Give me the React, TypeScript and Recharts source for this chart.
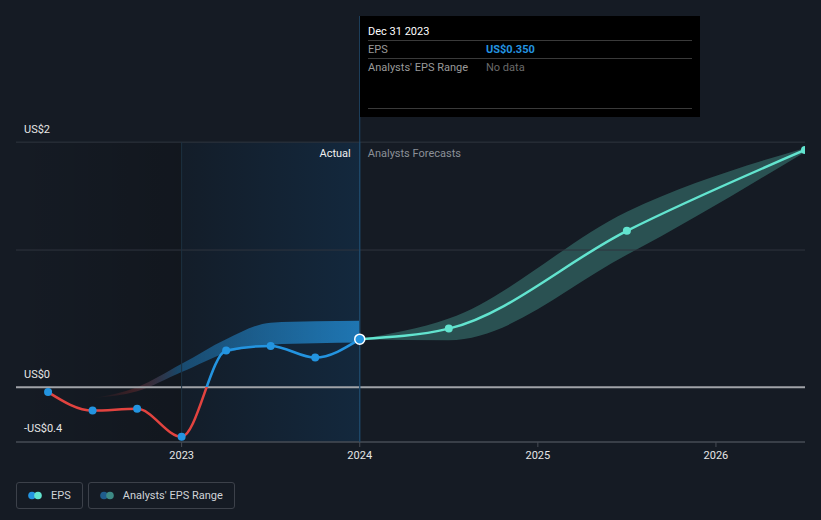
import React from "react";
import {
  ComposedChart,
  Line,
  Area,
  XAxis,
  YAxis,
  Tooltip,
  Legend,
  ReferenceArea,
  ReferenceLine,
} from "recharts";

// quarterly actuals up to Dec 2023, then analyst forecasts
const periods = [2022.25, 2022.5, 2022.75, 2023, 2023.25, 2023.5, 2023.75, 2024, 2024.5, 2025.5, 2026.5];
const periodLabels = [
  "Mar 31 2022", "Jun 30 2022", "Sep 30 2022", "Dec 31 2022", "Mar 31 2023", "Jun 30 2023",
  "Sep 30 2023", "Dec 31 2023", "Jun 30 2024", "Jun 30 2025", "Jun 30 2026",
];
const actualEps = [-0.036, -0.171, -0.158, -0.362, 0.267, 0.301, 0.216, 0.35, null, null, null];
const forecastEps = [null, null, null, null, null, null, null, 0.35, 0.427, 1.14, 1.73];
const actualRangeLow = [null, -0.08, -0.03, 0.11, 0.25, 0.31, 0.32, 0.325, null, null, null];
const actualRangeHigh = [null, -0.08, 0.0, 0.17, 0.35, 0.47, 0.48, 0.485, null, null, null];
const forecastRangeLow = [null, null, null, null, null, null, null, 0.35, 0.343, 0.965, 1.716];
const forecastRangeHigh = [null, null, null, null, null, null, null, 0.35, 0.5, 1.28, 1.745];

const xTicks = [2023, 2024, 2025, 2026];
const yTicks = [-0.4, 0, 1, 1.787];
const yTickLabels = ["-US$0.4", "US$0", "", "US$2"];
const splitYear = 2024;
const pastStart = 2023;

const BLUE = "#2394e0";
const RED = "#e2433f";
const TEAL = "#62e4cf";
const BG = "#151b24";

const data = periods.map((x, i) => ({
  x,
  period: periodLabels[i],
  actual: actualEps[i],
  forecast: forecastEps[i],
  actualRange: actualRangeLow[i] == null ? null : [actualRangeLow[i], actualRangeHigh[i]],
  forecastRange: forecastRangeLow[i] == null ? null : [forecastRangeLow[i], forecastRangeHigh[i]],
}));

const actualVals = actualEps.filter((v): v is number => v != null);
const epsMax = Math.max(...actualVals);
const epsMin = Math.min(...actualVals);
const zeroOffset = epsMax / (epsMax - epsMin);

const fmt = (v: number) => (v < 0 ? "-US$" + Math.abs(v).toFixed(3) : "US$" + v.toFixed(3));

const gridLabel = (text: string) => (p: any) =>
  text ? (
    <text x={p.viewBox.x + 8} y={p.viewBox.y - 12.5} fill="#e6e6e6" fontSize={11} dominantBaseline="middle">
      {text}
    </text>
  ) : (
    <g />
  );

const DividerLabel = (props: any) => {
  const { viewBox } = props;
  const y = viewBox.y + 12;
  return (
    <g>
      <text x={viewBox.x - 9} y={y} textAnchor="end" dominantBaseline="middle" fill="#f0f0f0" fontSize={11}>
        Actual
      </text>
      <text x={viewBox.x + 8} y={y} dominantBaseline="middle" fill="#8b9097" fontSize={11}>
        Analysts Forecasts
      </text>
    </g>
  );
};

const TipContent = (props: any) => {
  const { active, payload } = props;
  if (!active || !payload || !payload.length) return null;
  const row = payload[0].payload;
  const eps = row.actual != null ? row.actual : row.forecast;
  const range = row.forecastRange;
  const hasRange = range && range[0] !== range[1];
  const line = { borderTop: "1px solid #3a3a3a" };
  const rowStyle = { display: "flex", height: 17, lineHeight: "17px" };
  return (
    <div
      style={{
        width: 340,
        height: 101,
        background: "#000",
        padding: "8px 8px 0",
        boxSizing: "border-box",
        fontSize: 11,
        fontFamily: "Roboto, sans-serif",
      }}
    >
      <div style={{ color: "#fff", height: 16, lineHeight: "16px" }}>{row.period}</div>
      <div style={line} />
      <div style={rowStyle}>
        <span style={{ width: 118, color: "#9a9a9a" }}>EPS</span>
        <span style={{ color: BLUE, fontWeight: 700 }}>{fmt(eps)}</span>
      </div>
      <div style={line} />
      <div style={rowStyle}>
        <span style={{ width: 118, color: "#9a9a9a" }}>Analysts' EPS Range</span>
        <span style={{ color: "#6a6a6a" }}>
          {hasRange ? fmt(range[0]) + " - " + fmt(range[1]) : "No data"}
        </span>
      </div>
      <div style={{ height: 32 }} />
      <div style={line} />
    </div>
  );
};

const legendItems = [
  { label: "EPS", colors: [BLUE, TEAL] },
  { label: "Analysts' EPS Range", colors: ["#1f5c8c", "#3d8a85"] },
];

const LegendContent = () => (
  <div style={{ height: 38, display: "flex", alignItems: "flex-start", gap: 5 }}>
    {legendItems.map((item) => (
      <div
        key={item.label}
        style={{
          display: "flex",
          alignItems: "center",
          height: 27,
          boxSizing: "border-box",
          border: "1px solid #3c414a",
          borderRadius: 3,
          padding: "0 11px",
          gap: 8,
          color: "#cfd3d8",
          fontSize: 11,
        }}
      >
        <svg width={15} height={9}>
          <circle cx={4} cy={4.5} r={3.8} fill={item.colors[0]} />
          <circle cx={10} cy={4.5} r={3.8} fill={item.colors[1]} />
        </svg>
        <span>{item.label}</span>
      </div>
    ))}
  </div>
);

const gridStroke = (v: number) => (v === 0 ? "#a0a3a8" : v === yTicks[0] ? "#474c55" : "#2f353f");

export default function App() {
  return (
    <div
      style={{
        position: "absolute",
        left: 0,
        top: 0,
        width: 821,
        height: 520,
        background: BG,
        fontFamily: "Roboto, sans-serif",
      }}
    >
      <ComposedChart width={821} height={520} data={data} margin={{ top: 16, right: 16, bottom: 0, left: 16 }}>
        <defs>
          <linearGradient id="leftShade" x1="0" y1="0" x2="1" y2="0">
            <stop offset="0%" stopColor="#000" stopOpacity={0} />
            <stop offset="100%" stopColor="#000" stopOpacity={0.16} />
          </linearGradient>
          <linearGradient id="pastShade" x1="0" y1="0" x2="1" y2="0">
            <stop offset="0%" stopColor="#131d29" />
            <stop offset="100%" stopColor="#13283d" />
          </linearGradient>
          <linearGradient id="pastBand" x1="0" y1="0" x2="1" y2="0">
            <stop offset="0%" stopColor={RED} stopOpacity={0} />
            <stop offset="15%" stopColor={RED} stopOpacity={0.2} />
            <stop offset="32%" stopColor={BLUE} stopOpacity={0.38} />
            <stop offset="100%" stopColor={BLUE} stopOpacity={0.72} />
          </linearGradient>
          <linearGradient id="epsStroke" x1="0" y1="0" x2="0" y2="1">
            <stop offset={zeroOffset} stopColor={BLUE} />
            <stop offset={zeroOffset} stopColor={RED} />
          </linearGradient>
        </defs>
        <ReferenceArea x1={2022.07} x2={pastStart} y1={-0.4} y2={1.787} fill="url(#leftShade)" fillOpacity={1} stroke="none" />
        <ReferenceArea x1={pastStart} x2={splitYear} y1={-0.4} y2={1.787} fill="url(#pastShade)" fillOpacity={1} stroke="none" />
        <XAxis
          dataKey="x"
          type="number"
          domain={[2022.07, 2026.5]}
          allowDataOverflow
          ticks={xTicks}
          height={40}
          tick={{ fill: "#e6e6e6", fontSize: 11 }}
          tickLine={{ stroke: "#474c55" }}
          tickSize={5}
          tickMargin={4}
          axisLine={{ stroke: "#474c55" }}
        />
        <YAxis type="number" domain={[-0.4, 2.707]} allowDataOverflow hide width={0} />
        {yTicks.map((v, i) => (
          <ReferenceLine
            key={v}
            y={v}
            stroke={gridStroke(v)}
            strokeWidth={v === 0 ? 2 : 1}
            label={gridLabel(yTickLabels[i])}
          />
        ))}
        <ReferenceLine
          segment={[{ x: pastStart, y: -0.4 }, { x: pastStart, y: 1.787 }]}
          stroke="#1c3040"
        />
        <ReferenceLine
          segment={[{ x: splitYear, y: -0.4 }, { x: splitYear, y: 1.787 }]}
          stroke="#1f4a6c"
          label={(p: any) => <DividerLabel {...p} />}
        />
        <Area
          type="monotone"
          dataKey="actualRange"
          stroke="none"
          fill="url(#pastBand)"
          fillOpacity={1}
          activeDot={false}
          isAnimationActive={false}
        />
        <Area
          type="monotone"
          dataKey="forecastRange"
          stroke="none"
          fill={TEAL}
          fillOpacity={0.27}
          activeDot={false}
          isAnimationActive={false}
        />
        <Line
          type="monotone"
          dataKey="forecast"
          stroke={TEAL}
          strokeWidth={2.5}
          dot={(p: any) =>
            p.payload.x > splitYear ? (
              <circle key={p.index} cx={p.cx} cy={p.cy} r={4} fill={TEAL} />
            ) : (
              <g key={p.index} />
            )
          }
          activeDot={false}
          isAnimationActive={false}
        />
        <Line
          type="monotone"
          dataKey="actual"
          stroke="url(#epsStroke)"
          strokeWidth={2.5}
          dot={{ r: 4, fill: BLUE, stroke: "none" }}
          activeDot={{ r: 5, fill: BLUE, stroke: "#fff", strokeWidth: 1.5 }}
          isAnimationActive={false}
        />
        <Tooltip
          active
          defaultIndex={7}
          position={{ x: 360, y: 16 }}
          cursor={{ stroke: "#1f4a6c", strokeWidth: 1 }}
          content={<TipContent />}
          isAnimationActive={false}
          wrapperStyle={{ outline: "none" }}
        />
        <Legend verticalAlign="bottom" align="left" content={() => <LegendContent />} />
      </ComposedChart>
    </div>
  );
}
